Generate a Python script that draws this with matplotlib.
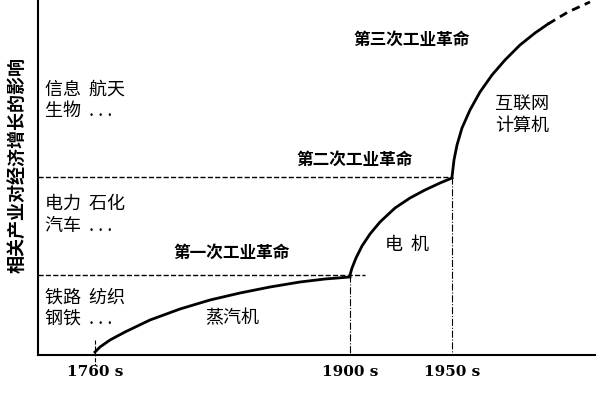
import matplotlib.pyplot as plt
plt.rcParams['font.family'] = ['Noto Sans CJK SC', 'DejaVu Sans']

tick_labels = ["1760 s", "1900 s", "1950 s"]
tick_pos = [95, 350, 452]
seg1_x = [95, 100, 110, 125, 150, 180, 210, 240, 270, 300, 325, 350]
seg1_y = [352, 347, 340, 332, 320, 309, 300, 293, 287, 282, 279, 277]
seg2_x = [350, 352, 356, 362, 370, 380, 395, 410, 425, 440, 452]
seg2_y = [275, 268, 258, 246, 234, 222, 208, 198, 190, 183, 178]
seg3_x = [452, 454, 457, 462, 470, 480, 492, 505, 520, 535, 548]
seg3_y = [177, 160, 145, 128, 110, 92, 75, 60, 45, 33, 24]
ext_x = [548, 568, 590]
ext_y = [24, 12, 2]

fig = plt.figure(figsize=(6, 4), dpi=100)
ax = fig.add_axes([0, 0, 1, 1])
ax.set_xlim(0, 600); ax.set_ylim(400, 0); ax.axis('off')

k = dict(color='black')
ax.plot([38, 38], [355, 0], lw=1.5, **k)
ax.plot([38, 595], [355, 355], lw=1.5, **k)
ax.plot(seg1_x, seg1_y, lw=2, **k)
ax.plot(seg2_x, seg2_y, lw=2, **k)
ax.plot(seg3_x, seg3_y, lw=2, **k)
ax.plot(ext_x, ext_y, lw=2, ls=(0, (3, 2)), **k)
ax.plot([38, 365], [275, 275], lw=1, ls='--', **k)
ax.plot([38, 452], [177, 177], lw=1, ls='--', **k)
ax.plot([350, 350], [275, 355], lw=0.8, ls='-.', **k)
ax.plot([452, 452], [177, 355], lw=0.8, ls='-.', **k)
ax.plot([95, 95], [340, 365], lw=0.8, ls='--', **k)
for p, l in zip(tick_pos, tick_labels):
    ax.text(p, 372, l, ha='center', va='center', fontsize=11, fontweight='bold', family='DejaVu Serif')

ax.text(18, 165, "相关产业对经济增长的影响", rotation=90, ha='center', va='center', fontsize=13, fontweight='bold')
ax.text(353, 40, "第三次工业革命", ha='left', va='center', fontsize=12, fontweight='bold')
ax.text(296, 160, "第二次工业革命", ha='left', va='center', fontsize=12, fontweight='bold')
ax.text(173, 253, "第一次工业革命", ha='left', va='center', fontsize=12, fontweight='bold')
t = dict(ha='left', va='center', fontsize=13, linespacing=1.25)
ax.text(45, 100, "信息  航天\n生物  . . .", **t)
ax.text(45, 215, "电力  石化\n汽车  . . .", **t)
ax.text(45, 308, "铁路  纺织\n钢铁  . . .", **t)
ax.text(205, 318, "蒸汽机", **t)
ax.text(385, 245, "电  机", **t)
ax.text(495, 115, "互联网\n计算机", **t)

fig.savefig("out.png", dpi=100)
